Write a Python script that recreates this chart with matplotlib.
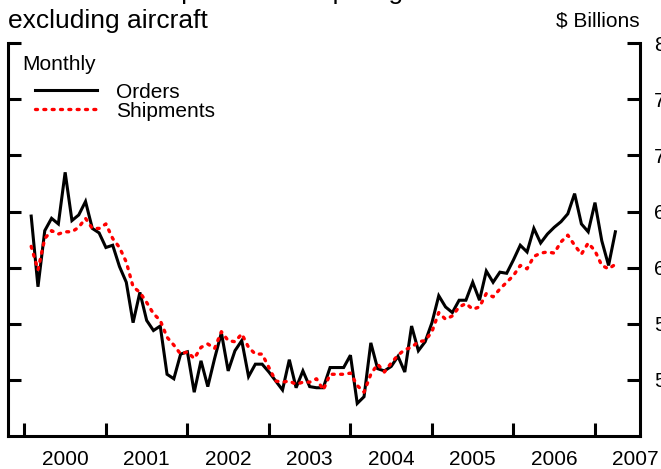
import matplotlib.pyplot as plt
import numpy as np

plt.rcParams["font.family"] = ["Liberation Sans", "DejaVu Sans"]

# Monthly values, $ billions, Jan 2000 - Mar 2007
orders = [
    64.6, 58.3, 63.3, 64.4, 63.9, 68.5, 64.2, 64.7, 65.9, 63.5, 63.1, 61.8,  # 2000
    62.0, 60.1, 58.7, 55.1, 57.8, 55.3, 54.4, 54.8, 50.5, 50.1, 52.3, 52.5,  # 2001
    48.9, 51.7, 49.4, 51.9, 54.2, 50.8, 52.6, 53.5, 50.3, 51.4, 51.4, 50.7,  # 2002
    49.9, 49.1, 51.8, 49.3, 50.8, 49.4, 49.3, 49.3, 51.1, 51.1, 51.1, 52.2,  # 2003
    47.9, 48.5, 53.3, 51.0, 50.8, 51.2, 52.1, 50.7, 54.8, 52.6, 53.4, 55.1,  # 2004
    57.5, 56.5, 56.0, 57.1, 57.1, 58.7, 57.1, 59.7, 58.7, 59.6, 59.5, 60.7,  # 2005
    62.0, 61.4, 63.5, 62.2, 63.0, 63.6, 64.1, 64.8, 66.6, 63.9, 63.2, 65.8,  # 2006
    62.4, 60.2, 63.2,                                                        # 2007
]
shipments = [
    61.9, 59.8, 62.6, 63.3, 63.0, 63.2, 63.2, 63.6, 64.4, 63.5, 63.5, 63.9,
    62.6, 61.8, 60.5, 58.3, 57.8, 56.9, 55.9, 55.3, 53.8, 53.1, 52.3, 52.5,
    51.9, 52.9, 53.2, 52.8, 54.3, 53.5, 53.4, 54.1, 52.9, 52.3, 52.3, 51.1,
    49.9, 49.8, 49.9, 49.6, 49.8, 49.8, 50.1, 49.1, 50.5, 50.5, 50.5, 50.6,
    49.5, 48.9, 50.5, 51.4, 50.7, 51.5, 52.2, 52.7, 52.9, 53.4, 53.5, 54.3,
    56.0, 55.4, 55.7, 56.5, 56.8, 56.3, 56.5, 57.7, 57.4, 58.1, 58.7, 59.3,
    60.2, 59.9, 61.0, 61.3, 61.4, 61.3, 62.3, 62.9, 62.0, 61.2, 62.2, 61.5,
    60.2, 59.9, 60.3,
]
years = list(range(2000, 2008))
y_ticks = [50, 55, 60, 65, 70, 75, 80]

# month-end positions in decimal years
t = 2000 + (np.arange(len(orders)) + 1) / 12

fig = plt.figure(figsize=(6.61, 4.69), dpi=100)
ax = fig.add_axes([0.0115, 0.0704, 0.9567, 0.8373])

ax.plot(t, orders, color="black", lw=2.2, solid_joinstyle="miter", label="Orders")
ax.plot(t, shipments, color="#ff0000", lw=2.4, linestyle=(0, (0.6, 1.9)),
        dash_capstyle="round", label="Shipments")

ax.set_xlim(1999.794, 2007.552)
ax.set_ylim(45, 80)

for side in ["left", "right", "bottom"]:
    ax.spines[side].set_linewidth(2.2)
ax.spines["top"].set_visible(False)

ax.set_yticks(y_ticks)
ax.tick_params(axis="y", which="both", direction="in", length=9.5, width=2.2,
               left=True, right=True, labelleft=False, labelright=True,
               labelsize=15, pad=10)

ax.set_xticks(years)
ax.set_xticklabels([])
ax.set_xticks([y + 0.5 for y in years], minor=True)
ax.set_xticklabels([str(y) for y in years], minor=True)
ax.tick_params(axis="x", which="major", direction="in", length=9.5, width=2.2)
ax.tick_params(axis="x", which="minor", length=0, labelsize=15, pad=10)

ax.text(0.023, 0.945, "Monthly", transform=ax.transAxes, fontsize=15,
        ha="left", va="center")
leg = ax.legend(loc="upper left", bbox_to_anchor=(0.043, 0.9), frameon=False,
                fontsize=15, handlelength=3.0, handletextpad=0.9,
                labelspacing=0.0, borderpad=0, borderaxespad=0)

fig.text(8 / 661, 1 + 1 / 469, "Orders and shipments of capital goods",
         fontsize=19, ha="left", va="baseline")
fig.text(8 / 661, 1 - 28 / 469, "excluding aircraft", fontsize=19,
         ha="left", va="baseline")
fig.text(640 / 661, 1 - 27 / 469, "$ Billions", fontsize=15,
         ha="right", va="baseline")

fig.savefig("out.png", dpi=100)
